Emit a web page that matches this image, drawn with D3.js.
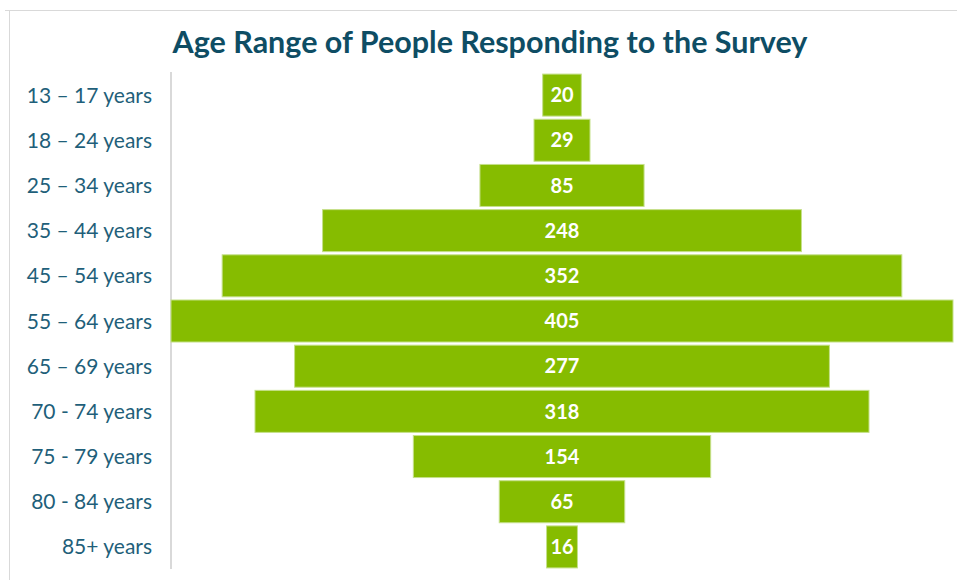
<!DOCTYPE html>
<html><head><meta charset="utf-8">
<script src="https://cdn.jsdelivr.net/npm/d3@7"></script>
<style>body{margin:0;background:#fff}svg{display:block}</style>
</head><body><svg id="c" width="957" height="580"></svg>
<script>
const categories = ["13 – 17 years","18 – 24 years","25 – 34 years","35 – 44 years","45 – 54 years","55 – 64 years","65 – 69 years","70 - 74 years","75 - 79 years","80 - 84 years","85+ years"];
const values = [20,29,85,248,352,405,277,318,154,65,16];
const title = "Age Range of People Responding to the Survey";

const svg = d3.select("#c");
// frame
svg.append("line").attr("x1",5).attr("x2",957).attr("y1",10.5).attr("y2",10.5).attr("stroke","#d9d9d9");
svg.append("line").attr("x1",9.5).attr("x2",9.5).attr("y1",10).attr("y2",580).attr("stroke","#d9d9d9");

const axisX = 171, center = 562;
const y = d3.scaleBand().domain(categories).range([72.5,569.5]).paddingInner(0.07).paddingOuter(0.035);
const w = d3.scaleLinear().domain([0,405]).range([0,782]);

svg.append("text").attr("x",490).attr("y",53).attr("text-anchor","middle")
  .attr("font-family","Lato, sans-serif").attr("font-weight","bold").attr("font-size",30.5)
  .attr("fill","#0e4d64").text(title);

svg.append("line").attr("x1",axisX).attr("x2",axisX).attr("y1",72).attr("y2",569)
  .attr("stroke","#d9d9d9").attr("stroke-width",2);

const g = svg.append("g");
g.selectAll("rect").data(values).join("rect")
  .attr("x",(d)=>center - w(d)/2).attr("width",d=>w(d))
  .attr("y",(d,i)=>y(categories[i])).attr("height",y.bandwidth())
  .attr("fill","#86bc00").attr("stroke","#c5e08a").attr("stroke-width",1);

g.selectAll("text.v").data(values).join("text").attr("class","v")
  .attr("x",center).attr("y",(d,i)=>y(categories[i])+y.bandwidth()/2)
  .attr("dy","0.36em").attr("text-anchor","middle")
  .attr("font-family","Lato, sans-serif").attr("font-weight","bold").attr("font-size",20)
  .attr("fill","#fff").text(d=>d);

svg.selectAll("text.c").data(categories).join("text").attr("class","c")
  .attr("x",152).attr("y",d=>y(d)+y.bandwidth()/2).attr("dy","0.36em")
  .attr("text-anchor","end").attr("font-family","Lato, sans-serif").attr("font-size",21)
  .attr("fill","#1f5f7a").text(d=>d);
</script></body></html>
